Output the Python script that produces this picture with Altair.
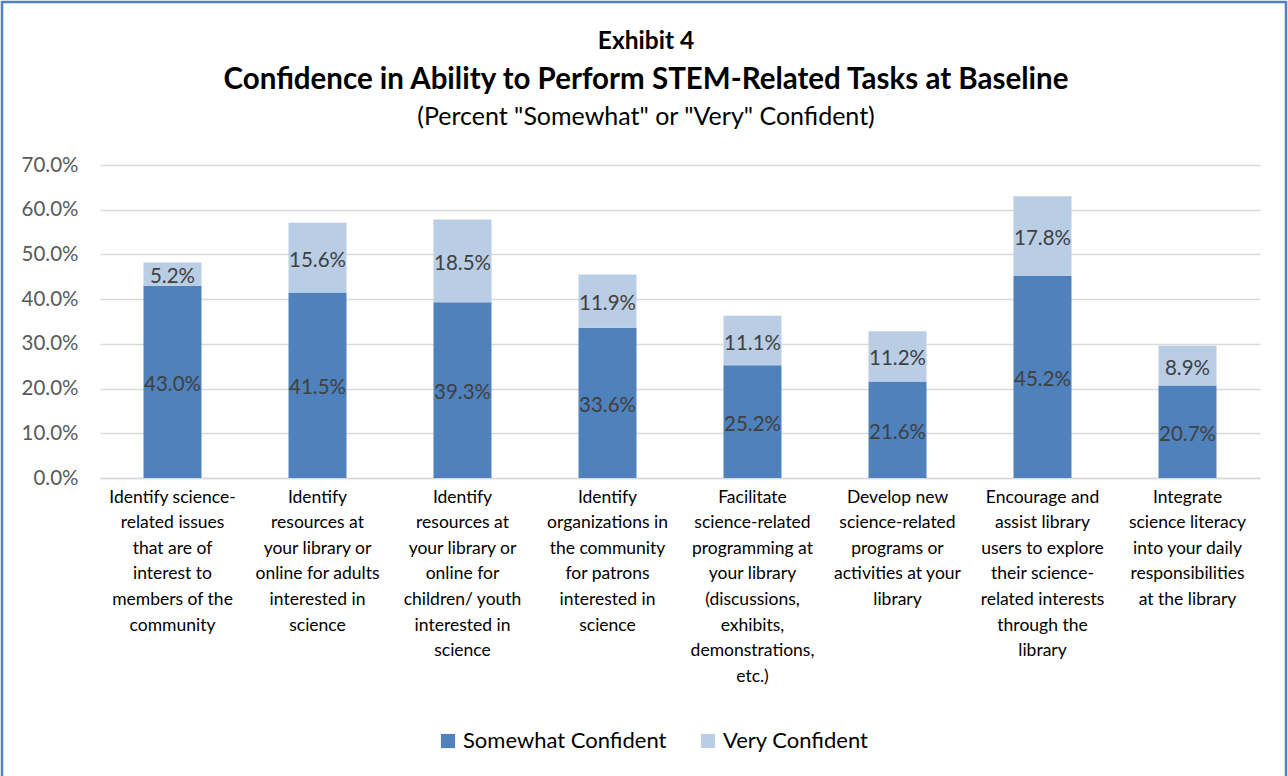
import altair as alt
import pandas as pd

# Task labels (line breaks marked with "|")
tasks = [
    "Identify science-|related issues|that are of|interest to|members of the|community",
    "Identify|resources at|your library or|online for adults|interested in|science",
    "Identify|resources at|your library or|online for|children/ youth|interested in|science",
    "Identify|organizations in|the community|for patrons|interested in|science",
    "Facilitate|science-related|programming at|your library|(discussions,|exhibits,|demonstrations,|etc.)",
    "Develop new|science-related|programs or|activities at your|library",
    "Encourage and|assist library|users to explore|their science-|related interests|through the|library",
    "Integrate|science literacy|into your daily|responsibilities|at the library",
]
somewhat = [43.0, 41.5, 39.3, 33.6, 25.2, 21.6, 45.2, 20.7]
very = [5.2, 15.6, 18.5, 11.9, 11.1, 11.2, 17.8, 8.9]
series = ["Somewhat Confident", "Very Confident"]
colors = ["#4F81BD", "#B9CDE5"]

rows = []
for t, s, v in zip(tasks, somewhat, very):
    rows.append({"task": t, "series": series[0], "ord": 0, "value": s, "mid": s / 2})
    rows.append({"task": t, "series": series[1], "ord": 1, "value": v, "mid": s + v / 2})
df = pd.DataFrame(rows)

W, H = 1160, 313
PAD_L, PAD_T = 100, 165
FONT = "Lato"

x_enc = alt.X("task:N", sort=tasks, title=None,
              scale=alt.Scale(paddingInner=0.6, paddingOuter=0.3),
              axis=alt.Axis(labelExpr="split(datum.label, '|')", labelAngle=0,
                            labelFontSize=17.5, labelLineHeight=25.6, labelColor="#000000",
                            labelFont=FONT, labelPadding=10, ticks=False,
                            domainColor="#D9D9D9", domainWidth=1.3, labelBaseline="top",
                            labelLimit=200))
y_scale = alt.Scale(domain=[0, 70])

bars = alt.Chart(df).mark_bar().encode(
    x=x_enc,
    y=alt.Y("value:Q", stack="zero", scale=y_scale, title=None,
            axis=alt.Axis(values=[0, 10, 20, 30, 40, 50, 60, 70],
                          labelExpr="format(datum.value, '.1f') + '%'",
                          labelFontSize=20.5, labelColor="#595959", labelFont=FONT,
                          labelPadding=22, ticks=False, domain=False,
                          gridColor="#D9D9D9", gridWidth=1.3)),
    color=alt.Color("series:N", scale=alt.Scale(domain=series, range=colors),
                    legend=alt.Legend(title=None, orient="none", direction="horizontal",
                                      legendX=337, legendY=565, symbolType="square",
                                      symbolSize=200, symbolStrokeWidth=0,
                                      labelFontSize=22, labelFont=FONT, labelColor="#000000",
                                      labelOffset=4, columnPadding=30, labelLimit=400)),
    order=alt.Order("ord:Q"),
)

labels = alt.Chart(df).mark_text(fontSize=20.5, font=FONT, color="#404040", dy=3).encode(
    x=alt.X("task:N", sort=tasks),
    y=alt.Y("mid:Q", scale=y_scale),
    text=alt.Text("label:N"),
).transform_calculate(label="format(datum.value, '.1f') + '%'")

titles = pd.DataFrame({
    "t": ["Exhibit 4",
          "Confidence in Ability to Perform STEM-Related Tasks at Baseline",
          '(Percent "Somewhat" or "Very" Confident)'],
})
cx = 646 - PAD_L
t1 = alt.Chart(titles.iloc[[0]]).mark_text(fontSize=24.5, fontWeight="bold", font=FONT,
                                            color="#000000").encode(
    x=alt.value(cx), y=alt.value(42 - PAD_T), text="t:N")
t2 = alt.Chart(titles.iloc[[1]]).mark_text(fontSize=29.5, fontWeight="bold", font=FONT,
                                            color="#000000").encode(
    x=alt.value(cx), y=alt.value(80 - PAD_T), text="t:N")
t3 = alt.Chart(titles.iloc[[2]]).mark_text(fontSize=25, font=FONT,
                                            color="#000000").encode(
    x=alt.value(cx), y=alt.value(117 - PAD_T), text="t:N")

frame = alt.Chart(pd.DataFrame({"k": [0]})).mark_rect(
    filled=False, stroke="#4F81BD", strokeWidth=2.5).encode(
    x=alt.value(2 - PAD_L), x2=alt.value(1286 - PAD_L),
    y=alt.value(2 - PAD_T), y2=alt.value(800 - PAD_T))

chart = alt.layer(frame, bars, labels, t1, t2, t3).properties(
    width=W, height=H,
    autosize=alt.AutoSizeParams(type="none"),
    padding={"left": PAD_L, "top": PAD_T, "right": 1288 - PAD_L - W, "bottom": 776 - PAD_T - H},
    background="white",
).configure_view(stroke=None)

chart.save("out.html", embed_options={"renderer": "svg", "actions": False})
